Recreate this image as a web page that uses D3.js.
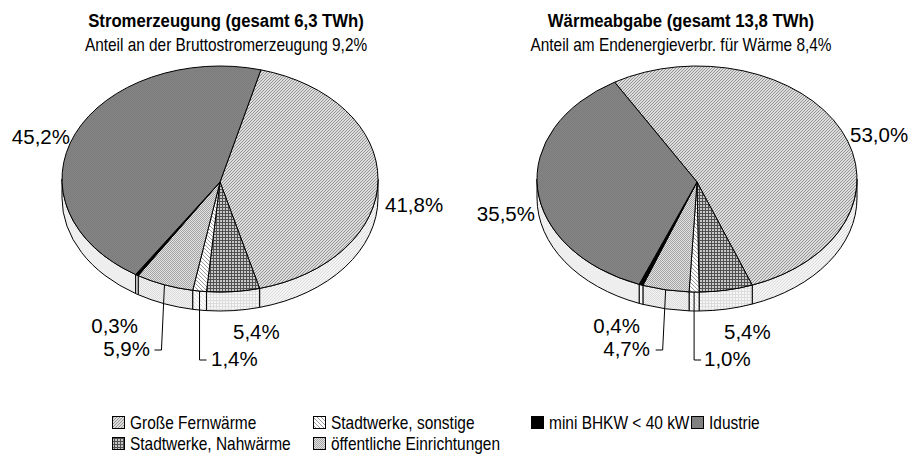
<!DOCTYPE html>
<html>
<head>
<meta charset="utf-8">
<script src="https://cdn.jsdelivr.net/npm/d3@7"></script>
<style>
  html, body { margin: 0; padding: 0; background: #fff; }
  svg { display: block; }
  text { font-family: "Liberation Sans", Arial, sans-serif; fill: #000; }
</style>
</head>
<body>
<svg id="chart" width="912" height="461"></svg>
<script>
// Segments, listed clockwise around each pie
const categories = ["Große Fernwärme", "Stadtwerke, Nahwärme", "Stadtwerke, sonstige",
                    "öffentliche Einrichtungen", "mini BHKW < 40 kW", "Idustrie"];
const stromValues  = [41.8, 5.4, 1.4, 5.9, 0.3, 45.2];   // % of 6,3 TWh
const waermeValues = [53.0, 5.4, 1.0, 4.7, 0.4, 35.5];   // % of 13,8 TWh
const chartTitles    = ["Stromerzeugung (gesamt 6,3 TWh)", "Wärmeabgabe (gesamt 13,8 TWh)"];
const chartSubtitles = ["Anteil an der Bruttostromerzeugung 9,2%", "Anteil am Endenergieverbr. für Wärme 8,4%"];
// Legend reading order as laid out in two rows
const legendOrder = ["Große Fernwärme", "Stadtwerke, sonstige", "mini BHKW < 40 kW", "Idustrie",
                     "Stadtwerke, Nahwärme", "öffentliche Einrichtungen"];

const svg = d3.select("#chart");
const defs = svg.append("defs");

// ---- fill patterns -------------------------------------------------------
function pattern(id, size, bg, draw) {
  const p = defs.append("pattern").attr("id", id).attr("patternUnits", "userSpaceOnUse")
    .attr("width", size).attr("height", size);
  p.append("rect").attr("width", size).attr("height", size).attr("fill", bg);
  draw(p);
}
function diag(p, s, col, dir) {
  const d = dir > 0
    ? `M0,${s} L${s},0 M${-s/2},${s/2} L${s/2},${-s/2} M${s/2},${s*1.5} L${s*1.5},${s/2}`
    : `M0,0 L${s},${s} M${-s/2},${s/2} L${s/2},${s*1.5} M${s/2},${-s/2} L${s*1.5},${s/2}`;
  p.append("path").attr("d", d).attr("stroke", col).attr("stroke-width", 1).attr("shape-rendering", "crispEdges");
}
function grid(p, s, col) {
  p.append("rect").attr("x", 0).attr("y", 0).attr("width", s).attr("height", 1).attr("fill", col);
  p.append("rect").attr("x", 0).attr("y", 0).attr("width", 1).attr("height", s).attr("fill", col);
}
function dots(p, col) {
  p.append("rect").attr("x", 0).attr("y", 0).attr("width", 1).attr("height", 1).attr("fill", col);
  p.append("rect").attr("x", 1).attr("y", 1).attr("width", 1).attr("height", 1).attr("fill", col);
}

// top faces
pattern("t0", 3, "#dcdcdc", p => diag(p, 3, "#969696", 1));
pattern("t1", 3, "#c8c8c8", p => grid(p, 3, "#505050"));
pattern("t2", 4, "#ffffff", p => diag(p, 4, "#9a9a9a", -1));
pattern("t3", 2, "#e2e2e2", p => dots(p, "#a4a4a4"));
pattern("t5", 2, "#858585", p => dots(p, "#7c7c7c"));
// side walls (lighter)
pattern("s0", 3, "#f4f4f4", p => diag(p, 3, "#dcdcdc", 1));
pattern("s1", 3, "#f6f6f6", p => grid(p, 3, "#dcdcdc"));
pattern("s2", 4, "#fbfbfb", p => diag(p, 4, "#e0e0e0", -1));
pattern("s3", 2, "#f2f2f2", p => dots(p, "#dcdcdc"));

const topFill  = ["url(#t0)", "url(#t1)", "url(#t2)", "url(#t3)", "#000000", "url(#t5)"];
const sideFill = ["url(#s0)", "url(#s1)", "url(#s2)", "url(#s3)", "#f6f6f6", "#eeeeee"];
const fillOf = name => topFill[categories.indexOf(name)];

const fmt = v => d3.format(".1f")(v).replace(".", ",") + "%";

function ctext(g, str, x, y, size, opts = {}) {
  const sx = opts.sx || 1;
  return g.append("text")
    .attr("transform", `translate(${x},${y}) scale(${sx},1)`)
    .attr("text-anchor", opts.anchor || "start")
    .attr("font-size", size)
    .attr("font-weight", opts.bold ? "bold" : "normal")
    .text(str);
}

// ---- one 3-D pie --------------------------------------------------------
function drawPie(cfg) {
  const { values, cx, cy, rx, ry, depth, start, apexDy } = cfg;
  const g = svg.append("g");
  const arcs = d3.pie().sort(null).startAngle(start).endAngle(start + 2 * Math.PI)(values);
  const P = (a, dy = 0) => [cx + rx * Math.sin(a), cy - ry * Math.cos(a) + dy];
  const TAU = 2 * Math.PI;
  const apex = [cx, cy + apexDy];

  // outer walls: only the front half (angles between 90° and 270°) is visible
  arcs.forEach((d, i) => {
    for (let k = -1; k <= 1; k++) {
      const lo = Math.PI / 2 + k * TAU, hi = 3 * Math.PI / 2 + k * TAU;
      const s = Math.max(d.startAngle, lo), e = Math.min(d.endAngle, hi);
      if (e <= s) continue;
      const a = P(s), b = P(e), c = P(e, depth), f = P(s, depth);
      const large = (e - s) > Math.PI ? 1 : 0;
      g.append("path")
        .attr("d", `M${a} A${rx},${ry} 0 ${large} 1 ${b} L${c} A${rx},${ry} 0 ${large} 0 ${f} Z`)
        .attr("fill", sideFill[i]).attr("stroke", "#000").attr("stroke-width", 1)
        .attr("stroke-linejoin", "round");
    }
  });

  // top faces
  arcs.forEach((d, i) => {
    const a = P(d.startAngle), b = P(d.endAngle);
    const large = (d.endAngle - d.startAngle) > Math.PI ? 1 : 0;
    g.append("path")
      .attr("d", `M${apex} L${a} A${rx},${ry} 0 ${large} 1 ${b} Z`)
      .attr("fill", topFill[i]).attr("stroke", "#000").attr("stroke-width", 1)
      .attr("stroke-linejoin", "round");
  });

  // value labels; leader lines for the narrow front slices
  cfg.labels.forEach(l => {
    const d = arcs[l.i];
    if (l.leader) {
      const mid = (d.startAngle + d.endAngle) / 2;
      const [ax, ay] = P(mid);
      const pts = [[ax, ay], [ax + l.leader.dx, l.leader.y], [ax + l.leader.dx + l.leader.tick, l.leader.y]];
      g.append("path").attr("d", d3.line()(pts)).attr("fill", "none")
        .attr("stroke", "#000").attr("stroke-width", 1);
    }
    ctext(g, fmt(values[l.i]), l.x, l.y, 20.5, { anchor: l.anchor });
  });
  return g;
}

drawPie({
  values: stromValues, cx: 220, cy: 179, rx: 158, ry: 113, depth: 19, apexDy: 3,
  start: 15 * Math.PI / 180,
  labels: [
    { i: 5, x: 70,  y: 144, anchor: "end" },
    { i: 0, x: 385, y: 212, anchor: "start" },
    { i: 4, x: 138, y: 333, anchor: "end" },
    { i: 3, x: 150, y: 356, anchor: "end", leader: { dx: -3, y: 350, tick: -7 } },
    { i: 1, x: 233, y: 339, anchor: "start" },
    { i: 2, x: 211, y: 366, anchor: "start", leader: { dx: 0, y: 360, tick: 7 } }
  ]
});

drawPie({
  values: waermeValues, cx: 697, cy: 179, rx: 160, ry: 113, depth: 19, apexDy: 3,
  start: -31 * Math.PI / 180,
  labels: [
    { i: 0, x: 850, y: 142, anchor: "start" },
    { i: 5, x: 535, y: 221, anchor: "end" },
    { i: 4, x: 640, y: 333, anchor: "end" },
    { i: 3, x: 650, y: 356, anchor: "end", leader: { dx: -3, y: 350, tick: -7 } },
    { i: 1, x: 724, y: 339, anchor: "start" },
    { i: 2, x: 704, y: 366, anchor: "start", leader: { dx: 0, y: 360, tick: 7 } }
  ]
});

// ---- titles --------------------------------------------------------------
const titleX = [226, 681];
chartTitles.forEach((t, k) => {
  ctext(svg, t, titleX[k], 27, 19, { anchor: "middle", bold: true, sx: 0.88 });
  ctext(svg, chartSubtitles[k], titleX[k], 51, 17.5, { anchor: "middle", sx: 0.88 });
});

// ---- legend ----------------------------------------------------------------
const legendCols = [112, 313, 531, 691];
const legendRows = [416, 437];
const lg = svg.append("g");
legendOrder.forEach((name, j) => {
  const col = j < 4 ? j : j - 4, row = j < 4 ? 0 : 1;
  const x = legendCols[col], y = legendRows[row];
  lg.append("rect").attr("x", x + 0.5).attr("y", y + 0.5).attr("width", 12).attr("height", 12)
    .attr("fill", fillOf(name)).attr("stroke", "#000").attr("stroke-width", 1);
  ctext(lg, name, x + 18, y + 13, 18, { sx: 0.86 });
});
</script>
</body>
</html>
